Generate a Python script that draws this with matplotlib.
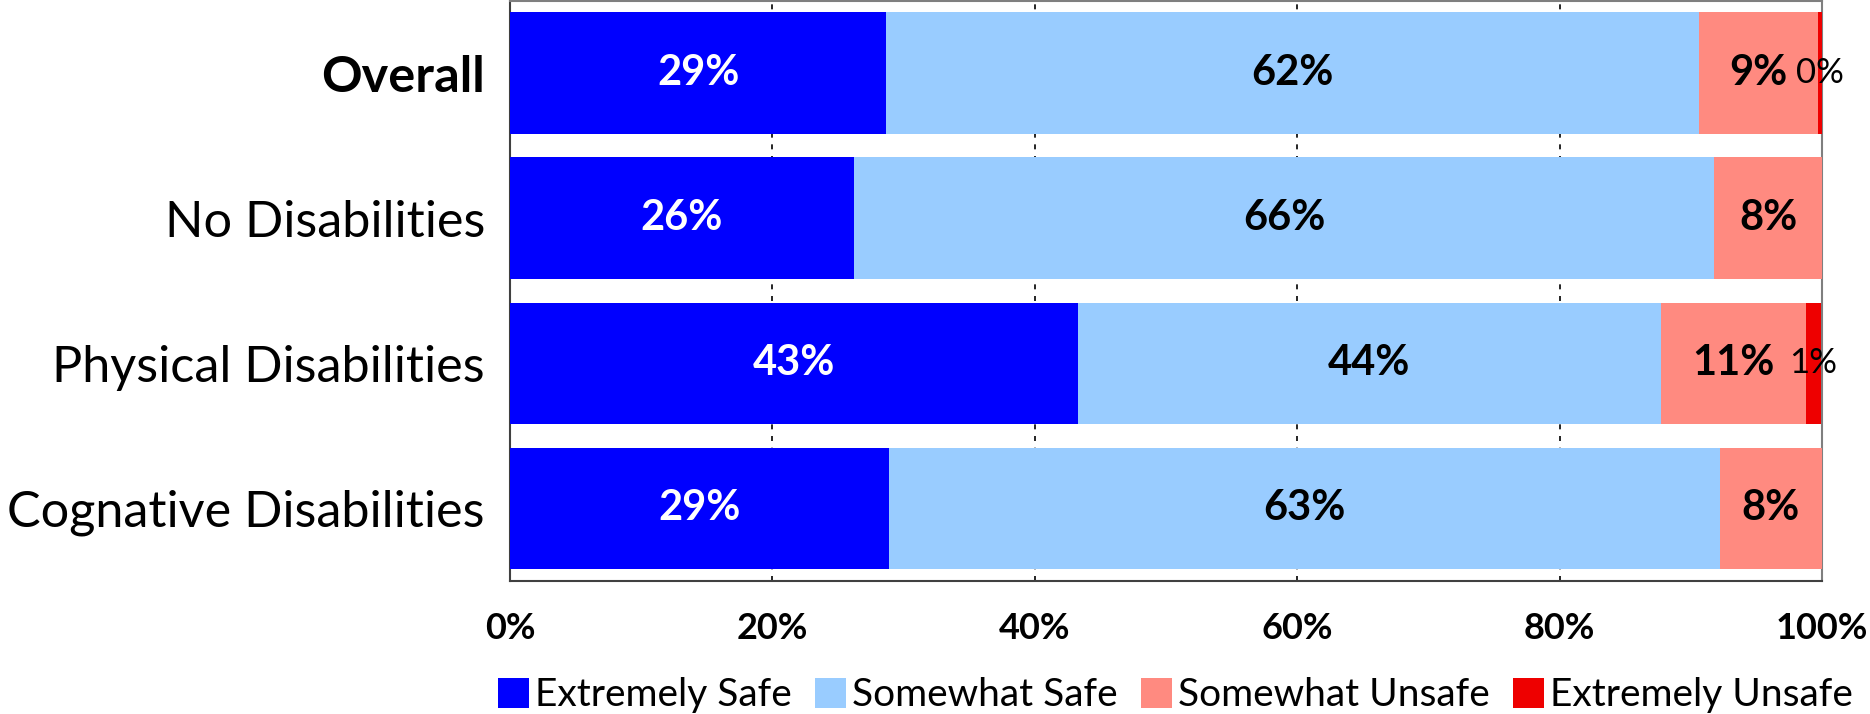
from matplotlib import pyplot as plt
import numpy as np


groups = ['Overall', 'No Disabilities', 'Physical Disabilities', 'Cognative Disabilities']
responses = ['Extremely Safe', 'Somewhat Safe', 'Somewhat Unsafe', 'Extremely Unsafe']
colors = ['#0000FF', '#99CCFF', '#FF8A80', '#EE0000']
label_colors = ['white', 'black', 'black', 'black']

extremely_safe = [28.7, 26.2, 43.3, 28.9]
somewhat_safe = [61.9, 65.6, 44.4, 63.3]
somewhat_unsafe = [9.1, 8.2, 11.1, 7.8]
extremely_unsafe = [0.3, 0.0, 1.1, 0.0]

x_ticks = [0, 20, 40, 60, 80, 100]
x_tick_labels = ['0%', '20%', '40%', '60%', '80%', '100%']


def main():
    plt.rcParams['font.family'] = ['Lato', 'DejaVu Sans']
    fig = plt.figure(figsize=(18.7, 7.14), dpi=100)
    ax = fig.add_axes([0.2727, 0.1863, 0.7016, 0.8125])

    series = [extremely_safe, somewhat_safe, somewhat_unsafe, extremely_unsafe]
    y = np.arange(len(groups))
    left = np.zeros(len(groups))

    for name, values, color, tcolor in zip(responses, series, colors, label_colors):
        values = np.array(values)
        ax.barh(y, values, left=left, height=0.84, color=color, label=name, zorder=3)
        for yi, l, v in zip(y, left, values):
            if v <= 0:
                continue
            if v < 3:
                # tiny slices get a plain, smaller label
                ax.text(l + v / 2, yi, '{:.0f}%'.format(v), ha='center', va='center',
                        fontsize=25, color='black', zorder=4)
            else:
                ax.text(l + v / 2, yi, '{:.0f}%'.format(v), ha='center', va='center',
                        fontsize=30, fontweight='bold', color=tcolor, zorder=4)
        left += values

    ax.set_xlim(0, 100)
    ax.set_ylim(len(groups) - 0.5, -0.5)
    ax.set_yticks(y)
    ax.set_yticklabels(groups, fontsize=36.3)
    ax.get_yticklabels()[0].set_fontweight('bold')
    ax.set_xticks(x_ticks)
    ax.set_xticklabels(x_tick_labels, fontsize=26, fontweight='bold')
    ax.tick_params(axis='both', length=0)
    ax.tick_params(axis='y', pad=18)
    ax.tick_params(axis='x', pad=22)

    ax.grid(axis='x', color='black', linestyle=(0, (3, 4)), linewidth=1.2, zorder=0)
    for side in ['top', 'right']:
        ax.spines[side].set_color('#7f7f7f')
    for side in ['left', 'bottom']:
        ax.spines[side].set_color('#404040')
    for side in ax.spines:
        ax.spines[side].set_linewidth(1.5)

    fig.legend(loc='center', bbox_to_anchor=(0.6285, 0.026), ncol=4, frameon=False,
               fontsize=28, handlelength=0.8, handleheight=0.8, handletextpad=0.15,
               columnspacing=0.6)

    fig.savefig('out.png', dpi=100)


if __name__ == '__main__':
    main()
